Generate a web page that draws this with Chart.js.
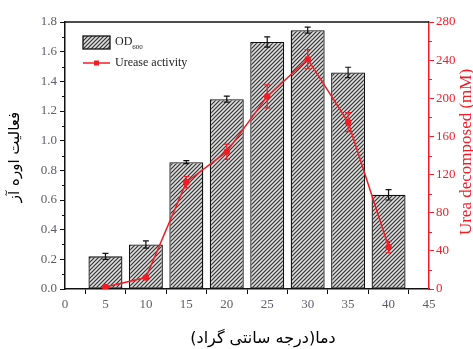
<!DOCTYPE html>
<html><head><meta charset="utf-8">
<script src="https://cdn.jsdelivr.net/npm/chart.js@4"></script>
<style>html,body{margin:0;padding:0;background:#fff}#c{display:block}</style>
</head><body>
<canvas id="c" width="473" height="349"></canvas>
<script>
const temperatures=[5,10,15,20,25,30,35,40];
const odValues=[0.22,0.30,0.855,1.28,1.665,1.745,1.46,0.635];
const odErrors=[0.02,0.025,0.01,0.02,0.035,0.02,0.035,0.035];
const ureaseValues=[2,12,112,144,202,241,175,44];
const ureaseErrors=[1,1,6,8,12,10,10,6];
const xTitle='دما(درجه سانتی گراد)';
const yTitle='فعالیت اوره آز';
const y1Title='Urea decomposed (mM)';
const legendOD='OD';
const legendODSub='600';
const legendUrease='Urease activity';

const RED='#f21c24';
const TICKC='#5f5b6e';
const SERIF='"Liberation Serif", "Times New Roman", serif';

const canvas=document.getElementById('c');
const ctx0=canvas.getContext('2d');
function makeHatch(){
  const s=4;
  const p=document.createElement('canvas');p.width=s;p.height=s;
  const g=p.getContext('2d');
  g.fillStyle='#dedede';g.fillRect(0,0,s,s);
  g.strokeStyle='#333';g.lineWidth=1.2;
  g.beginPath();
  g.moveTo(-1,s+1);g.lineTo(s+1,-1);
  g.moveTo(-1,1);g.lineTo(1,-1);
  g.moveTo(s-1,s+1);g.lineTo(s+1,s-1);
  g.stroke();
  return ctx0.createPattern(p,'repeat');
}
const hatch=makeHatch();

const decorPlugin={
  id:'decor',
  afterDatasetDraw(chart,args){
    const ctx=chart.ctx;
    const xs=chart.scales.x;
    if(args.index===0){
      const ys=chart.scales.y;
      ctx.save();ctx.strokeStyle='#111';ctx.lineWidth=1.2;
      temperatures.forEach((t,i)=>{
        const x=xs.getPixelForValue(t);
        const y1=ys.getPixelForValue(odValues[i]+odErrors[i]);
        const y2=ys.getPixelForValue(odValues[i]-odErrors[i]);
        ctx.beginPath();
        ctx.moveTo(x,y1);ctx.lineTo(x,y2);
        ctx.moveTo(x-3,y1);ctx.lineTo(x+3,y1);
        ctx.moveTo(x-3,y2);ctx.lineTo(x+3,y2);
        ctx.stroke();
      });
      ctx.restore();
    } else if(args.index===1){
      const ys=chart.scales.y1;
      ctx.save();ctx.strokeStyle=RED;ctx.lineWidth=1.2;
      temperatures.forEach((t,i)=>{
        const x=xs.getPixelForValue(t);
        const y1=ys.getPixelForValue(ureaseValues[i]+ureaseErrors[i]);
        const y2=ys.getPixelForValue(ureaseValues[i]-ureaseErrors[i]);
        ctx.beginPath();
        ctx.moveTo(x,y1);ctx.lineTo(x,y2);
        ctx.moveTo(x-3,y1);ctx.lineTo(x+3,y1);
        ctx.moveTo(x-3,y2);ctx.lineTo(x+3,y2);
        ctx.stroke();
      });
      ctx.restore();
    }
  },
  afterDraw(chart){
    const ctx=chart.ctx;const a=chart.chartArea;
    const ys=chart.scales.y, y1s=chart.scales.y1;
    ctx.save();
    ctx.strokeStyle='#111';ctx.lineWidth=1.5;
    ctx.beginPath();ctx.moveTo(a.left,a.top);ctx.lineTo(a.right,a.top);ctx.stroke();
    ctx.lineWidth=1;
    for(let v=0.1;v<1.8;v+=0.2){
      const y=Math.round(ys.getPixelForValue(v))+0.5;
      ctx.beginPath();ctx.moveTo(a.left-3,y);ctx.lineTo(a.left,y);ctx.stroke();
    }
    ctx.strokeStyle=RED;
    for(let v=20;v<280;v+=40){
      const y=Math.round(y1s.getPixelForValue(v))+0.5;
      ctx.beginPath();ctx.moveTo(a.right,y);ctx.lineTo(a.right+3,y);ctx.stroke();
    }
    const lx=83, ly=36;
    ctx.fillStyle=hatch;ctx.fillRect(lx,ly,27,13);
    ctx.strokeStyle='#111';ctx.lineWidth=1.3;ctx.strokeRect(lx,ly,27,13);
    ctx.fillStyle='#222';ctx.textBaseline='middle';ctx.textAlign='left';
    ctx.font='12px '+SERIF;
    ctx.fillText(legendOD,115,42);
    const w=ctx.measureText(legendOD).width;
    ctx.font='7px '+SERIF;
    ctx.fillText(legendODSub,115+w,47);
    ctx.strokeStyle=RED;ctx.lineWidth=1.5;
    ctx.beginPath();ctx.moveTo(lx,63);ctx.lineTo(lx+27,63);ctx.stroke();
    ctx.fillStyle=RED;ctx.fillRect(lx+11,60.5,5,5);
    ctx.fillStyle='#222';ctx.font='12px '+SERIF;
    ctx.fillText(legendUrease,115,63);
    ctx.fillStyle='#000';ctx.textAlign='center';ctx.textBaseline='middle';
    ctx.font='16px "DejaVu Sans", "Noto Sans", sans-serif';
    ctx.fillText(xTitle,263,339);
    ctx.save();ctx.translate(15,157);ctx.rotate(-Math.PI/2);
    ctx.font='15px "DejaVu Sans", "Noto Sans", sans-serif';
    ctx.fillText(yTitle,0,0);ctx.restore();
    ctx.save();ctx.translate(467,152);ctx.rotate(-Math.PI/2);
    ctx.fillStyle=RED;ctx.font='17px '+SERIF;
    ctx.fillText(y1Title,0,0);ctx.restore();
    ctx.restore();
  }
};

new Chart(canvas,{
  type:'bar',
  data:{
    datasets:[
      {type:'bar',label:'OD600',data:temperatures.map((t,i)=>({x:t,y:odValues[i]})),
       backgroundColor:hatch,borderColor:'#111',borderWidth:1.3,borderSkipped:false,
       barPercentage:0.84,categoryPercentage:1,yAxisID:'y',order:2},
      {type:'line',label:'Urease activity',data:temperatures.map((t,i)=>({x:t,y:ureaseValues[i]})),
       borderColor:RED,backgroundColor:RED,borderWidth:1.5,pointRadius:2.5,pointStyle:'circle',
       tension:0,yAxisID:'y1',order:1}
    ]
  },
  options:{
    responsive:false,animation:false,devicePixelRatio:1,
    layout:{padding:{top:22,left:0,right:0,bottom:0}},
    plugins:{legend:{display:false},tooltip:{enabled:false}},
    scales:{
      x:{type:'linear',min:0,max:45,offset:false,
        ticks:{stepSize:5,color:TICKC,font:{family:SERIF,size:13},padding:3,maxRotation:0},
        grid:{drawOnChartArea:false,tickLength:5,tickColor:'#111',tickWidth:1},
        border:{color:'#111',width:1.5},
        afterFit(s){s.height=60;}},
      y:{position:'left',min:0,max:1.8,
        ticks:{stepSize:0.2,color:TICKC,font:{family:SERIF,size:13},padding:3,callback:v=>Number(v).toFixed(1)},
        grid:{drawOnChartArea:false,tickLength:5,tickColor:'#111',tickWidth:1},
        border:{color:'#111',width:1.5},
        afterFit(s){s.width=65;}},
      y1:{position:'right',min:0,max:280,
        ticks:{stepSize:40,color:RED,font:{family:SERIF,size:13},padding:2},
        grid:{drawOnChartArea:false,tickLength:5,tickColor:RED,tickWidth:1},
        border:{color:RED,width:1.5},
        afterFit(s){s.width=44;}}
    }
  },
  plugins:[decorPlugin]
});
</script>
</body></html>
